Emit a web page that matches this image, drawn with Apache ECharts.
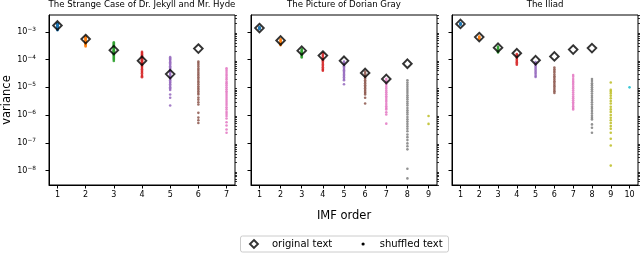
<!DOCTYPE html>
<html><head><meta charset="utf-8">
<script src="https://cdn.jsdelivr.net/npm/echarts@6/dist/echarts.min.js"></script>
<style>html,body{margin:0;padding:0;background:#fff}#c{width:640px;height:253px}</style>
</head><body><div id="c"></div>
<script>
// ---------- data ----------
const panelTitles = ['The Strange Case of Dr. Jekyll and Mr. Hyde', 'The Picture of Dorian Gray', 'The Iliad'];
const imfTicks1 = [1, 2, 3, 4, 5, 6, 7];
const imfTicks2 = [1, 2, 3, 4, 5, 6, 7, 8, 9];
const imfTicks3 = [1, 2, 3, 4, 5, 6, 7, 8, 9, 10];
const yTickValues = [1e-8, 1e-7, 1e-6, 1e-5, 1e-4, 1e-3];

const jekyllOriginal = [1.7e-3, 5.5e-4, 2.2e-4, 9.1e-5, 3.0e-5, 2.5e-4];
const dorianOriginal = [1.38e-3, 4.9e-4, 2.1e-4, 1.4e-4, 9.1e-5, 3.3e-5, 2.0e-5, 7.1e-5];
const iliadOriginal = [1.94e-3, 6.5e-4, 2.7e-4, 1.7e-4, 9.5e-5, 1.3e-4, 2.3e-4, 2.6e-4];

const jekyllShuffled = [
  [2.0e-3, 1.9e-3, 1.85e-3, 1.8e-3, 1.75e-3, 1.7e-3, 1.68e-3, 1.65e-3, 1.6e-3, 1.55e-3, 1.5e-3, 1.45e-3, 1.4e-3, 1.3e-3, 1.2e-3, 1.15e-3],
  [6.8e-4, 6.4e-4, 6.0e-4, 5.8e-4, 5.5e-4, 5.2e-4, 5.0e-4, 4.8e-4, 4.6e-4, 4.4e-4, 4.2e-4, 4.0e-4, 3.8e-4, 3.6e-4, 3.4e-4, 3.2e-4, 3.0e-4],
  [4.2e-4, 3.9e-4, 3.6e-4, 3.3e-4, 3.1e-4, 2.9e-4, 2.7e-4, 2.5e-4, 2.3e-4, 2.2e-4, 2.1e-4, 2.0e-4, 1.9e-4, 1.8e-4, 1.7e-4, 1.6e-4, 1.5e-4, 1.4e-4, 1.3e-4, 1.2e-4, 1.1e-4, 1.0e-4, 9.0e-5],
  [1.9e-4, 1.75e-4, 1.6e-4, 1.5e-4, 1.4e-4, 1.3e-4, 1.2e-4, 1.1e-4, 1.0e-4, 9.5e-5, 9.0e-5, 8.5e-5, 8.0e-5, 7.5e-5, 7.0e-5, 6.5e-5, 6.0e-5, 5.5e-5, 5.0e-5, 4.5e-5, 4.0e-5, 3.6e-5, 3.2e-5, 2.8e-5, 2.5e-5, 2.3e-5],
  [1.23e-4, 1.1e-4, 1.0e-4, 9.0e-5, 8.0e-5, 7.2e-5, 6.5e-5, 5.8e-5, 5.2e-5, 4.7e-5, 4.2e-5, 3.8e-5, 3.4e-5, 3.0e-5, 2.7e-5, 2.4e-5, 2.2e-5, 2.0e-5, 1.8e-5, 1.6e-5, 1.45e-5, 1.3e-5, 1.15e-5, 1.0e-5, 9.0e-6, 8.1e-6, 5.5e-6, 4.2e-6, 2.2e-6],
  [8.5e-5, 7.5e-5, 6.5e-5, 5.6e-5, 4.8e-5, 4.2e-5, 3.6e-5, 3.1e-5, 2.7e-5, 2.3e-5, 2.0e-5, 1.7e-5, 1.5e-5, 1.3e-5, 1.1e-5, 9.5e-6, 8.3e-6, 7.2e-6, 6.2e-6, 5.5e-6, 4.3e-6, 3.6e-6, 2.9e-6, 2.4e-6, 1.2e-6, 8.1e-7, 6.5e-7, 5.2e-7],
  [4.9e-5, 4.2e-5, 3.6e-5, 3.0e-5, 2.6e-5, 2.2e-5, 1.9e-5, 1.6e-5, 1.4e-5, 1.2e-5, 1.0e-5, 8.5e-6, 7.2e-6, 6.2e-6, 5.3e-6, 4.5e-6, 3.8e-6, 3.2e-6, 2.7e-6, 2.3e-6, 1.9e-6, 1.6e-6, 1.3e-6, 1.1e-6, 9.2e-7, 7.5e-7, 5.5e-7, 4.2e-7, 3.0e-7, 2.3e-7]
];
const dorianShuffled = [
  [1.5e-3, 1.45e-3, 1.4e-3, 1.35e-3, 1.3e-3, 1.25e-3],
  [5.5e-4, 5.1e-4, 4.8e-4, 4.5e-4, 4.2e-4, 3.9e-4, 3.6e-4, 3.3e-4],
  [2.4e-4, 2.2e-4, 2.0e-4, 1.85e-4, 1.7e-4, 1.55e-4, 1.4e-4, 1.3e-4, 1.2e-4],
  [1.7e-4, 1.5e-4, 1.35e-4, 1.2e-4, 1.05e-4, 9.5e-5, 8.5e-5, 7.5e-5, 6.7e-5, 6.0e-5, 5.3e-5, 4.7e-5, 4.3e-5, 4.0e-5],
  [8.5e-5, 7.5e-5, 6.5e-5, 5.8e-5, 5.2e-5, 4.6e-5, 4.1e-5, 3.7e-5, 3.3e-5, 2.9e-5, 2.6e-5, 2.3e-5, 2.0e-5, 1.8e-5, 1.3e-5],
  [3.7e-5, 3.2e-5, 2.8e-5, 2.4e-5, 2.1e-5, 1.8e-5, 1.6e-5, 1.4e-5, 1.2e-5, 1.05e-5, 9.2e-6, 8.0e-6, 7.0e-6, 6.2e-6, 5.5e-6, 4.2e-6, 2.6e-6],
  [2.0e-5, 1.7e-5, 1.45e-5, 1.25e-5, 1.05e-5, 9.0e-6, 7.7e-6, 6.6e-6, 5.6e-6, 4.8e-6, 4.1e-6, 3.5e-6, 3.0e-6, 2.5e-6, 2.1e-6, 1.8e-6, 1.6e-6, 1.26e-6, 1.05e-6, 4.9e-7],
  [1.8e-5, 1.5e-5, 1.25e-5, 1.05e-5, 8.8e-6, 7.4e-6, 6.2e-6, 5.2e-6, 4.4e-6, 3.7e-6, 3.1e-6, 2.6e-6, 2.2e-6, 1.8e-6, 1.5e-6, 1.25e-6, 1.05e-6, 8.5e-7, 7.0e-7, 5.8e-7, 4.8e-7, 3.9e-7, 3.2e-7, 2.6e-7, 2.0e-7, 1.6e-7, 1.25e-7, 9.5e-8, 7.5e-8, 5.8e-8, 1.15e-8, 5.2e-9],
  [9.3e-7, 4.8e-7]
];
const iliadShuffled = [
  [2.1e-3, 2.0e-3, 1.95e-3, 1.9e-3, 1.85e-3, 1.8e-3],
  [6.8e-4, 6.5e-4, 6.2e-4, 5.9e-4, 5.6e-4],
  [2.95e-4, 2.7e-4, 2.5e-4, 2.3e-4, 2.1e-4, 1.95e-4, 1.8e-4],
  [1.6e-4, 1.45e-4, 1.3e-4, 1.15e-4, 1.0e-4, 9.0e-5, 8.0e-5, 7.2e-5, 6.5e-5],
  [8.1e-5, 7.2e-5, 6.4e-5, 5.6e-5, 5.0e-5, 4.4e-5, 3.9e-5, 3.4e-5, 3.0e-5, 2.6e-5, 2.35e-5],
  [5.2e-5, 4.5e-5, 3.9e-5, 3.4e-5, 2.9e-5, 2.5e-5, 2.2e-5, 1.9e-5, 1.65e-5, 1.45e-5, 1.25e-5, 1.1e-5, 9.5e-6, 8.2e-6, 7.2e-6, 6.3e-6],
  [2.8e-5, 2.4e-5, 2.0e-5, 1.7e-5, 1.45e-5, 1.25e-5, 1.05e-5, 9.0e-6, 7.7e-6, 6.5e-6, 5.5e-6, 4.7e-6, 4.0e-6, 3.4e-6, 2.9e-6, 2.5e-6, 2.1e-6, 1.8e-6, 1.6e-6],
  [2.0e-5, 1.7e-5, 1.4e-5, 1.2e-5, 1.0e-5, 8.5e-6, 7.2e-6, 6.0e-6, 5.0e-6, 4.2e-6, 3.5e-6, 2.9e-6, 2.4e-6, 2.0e-6, 1.7e-6, 1.4e-6, 1.15e-6, 9.5e-7, 8.0e-7, 6.9e-7, 4.6e-7, 3.5e-7, 2.3e-7],
  [1.5e-5, 8.1e-6, 7.0e-6, 6.0e-6, 5.0e-6, 4.0e-6, 3.2e-6, 2.6e-6, 2.0e-6, 1.6e-6, 1.3e-6, 1.0e-6, 8.0e-7, 6.5e-7, 5.2e-7, 4.0e-7, 3.2e-7, 2.3e-7, 1.4e-7, 8.0e-8, 1.5e-8],
  [1.0e-5]
];

// ---------- styling / layout ----------
const tab10 = ['#1f77b4', '#ff7f0e', '#2ca02c', '#d62728', '#9467bd', '#8c564b', '#e377c2', '#7f7f7f', '#bcbd22', '#17becf'];
const FONT = 'DejaVu Sans';
const yMin = 3.0e-9, yMax = 4.07e-3;
const gridLefts = [49, 251, 452];
const gridW = 186, gridTop = 15, gridH = 170;
const xTickSets = [imfTicks1, imfTicks2, imfTicks3];
const xExtents = [[0.7, 7.3], [0.6, 9.4], [0.55, 10.45]];
const originals = [jekyllOriginal, dorianOriginal, iliadOriginal];
const shuffled = [jekyllShuffled, dorianShuffled, iliadShuffled];

const minorTickValues = [];
for (let k = -9; k <= -3; k++) {
  for (let m = 2; m <= 9; m++) {
    const v = m * Math.pow(10, k);
    if (v > yMin && v < yMax) minorTickValues.push(v);
  }
}

const grids = [], xAxes = [], yAxes = [], series = [], titles = [];
for (let p = 0; p < 3; p++) {
  grids.push({left: gridLefts[p], top: gridTop, width: gridW, height: gridH,
    show: true, borderColor: '#000', borderWidth: 1, backgroundColor: 'transparent'});
  titles.push({text: panelTitles[p], left: gridLefts[p] + gridW / 2, top: 0.5, textAlign: 'center', padding: 0,
    textStyle: {fontFamily: FONT, fontSize: 8.6, fontWeight: 'normal', color: '#000'}});
  const xa = {type: 'value', gridIndex: p, min: xExtents[p][0], max: xExtents[p][1],
    axisLine: {show: true, lineStyle: {color: '#000', width: 1}},
    axisTick: {show: true, length: 3.5, lineStyle: {color: '#000', width: 1}, customValues: xTickSets[p]},
    axisLabel: {show: true, customValues: xTickSets[p], fontFamily: FONT, fontSize: 8, color: '#000', margin: 6,
      formatter: v => String(v)},
    splitLine: {show: false}};
  if (p === 1) {
    xa.name = 'IMF order'; xa.nameLocation = 'middle'; xa.nameGap = 25;
    xa.nameTextStyle = {fontFamily: FONT, fontSize: 11.5, color: '#000'};
  }
  xAxes.push(xa);
  const ya = {type: 'log', gridIndex: p, min: yMin, max: yMax, logBase: 10,
    axisLine: {show: true, lineStyle: {color: '#000', width: 1}},
    axisTick: {show: true, length: 3.5, lineStyle: {color: '#000', width: 1}, customValues: yTickValues},
    axisLabel: {show: p === 0, customValues: yTickValues, margin: 13, color: '#000',
      formatter: v => '{b|10}{s|\u2212' + Math.round(-Math.log10(v)) + '}',
      rich: {b: {fontFamily: FONT, fontSize: 8, color: '#000'}, s: {fontFamily: FONT, fontSize: 5.8, color: '#000', verticalAlign: 'top', padding: [0, 0, 5, 0]}}},
    splitLine: {show: false}};
  if (p === 0) {
    ya.name = 'variance'; ya.nameLocation = 'middle'; ya.nameRotate = 90; ya.nameGap = 35;
    ya.nameTextStyle = {fontFamily: FONT, fontSize: 11.5, color: '#000'};
  }
  yAxes.push(ya);
  yAxes.push({type: 'log', gridIndex: p, min: yMin, max: yMax, logBase: 10,
    axisLine: {show: false},
    axisTick: {show: true, length: 2, lineStyle: {color: '#000', width: 0.8}, customValues: minorTickValues},
    axisLabel: {show: false}, splitLine: {show: false}});

  const pts = [];
  shuffled[p].forEach((strip, i) => {
    strip.forEach(v => pts.push({value: [i + 1, v], itemStyle: {color: tab10[i % 10]}}));
  });
  series.push({name: 'shuffled text', type: 'scatter', xAxisIndex: p, yAxisIndex: 2 * p,
    symbol: 'circle', symbolSize: 2.6, itemStyle: {opacity: 0.85}, data: pts, z: 2});
  series.push({name: 'original text', type: 'scatter', xAxisIndex: p, yAxisIndex: 2 * p,
    symbol: 'diamond', symbolSize: 8.6,
    itemStyle: {color: 'rgba(0,0,0,0)', borderColor: '#000', borderWidth: 1.9},
    data: originals[p].map((v, i) => [i + 1, v]), z: 3});
}

const chart = echarts.init(document.getElementById('c'), null, {renderer: 'canvas'});
chart.setOption({
  animation: false,
  backgroundColor: '#fff',
  title: titles,
  grid: grids,
  xAxis: xAxes,
  yAxis: yAxes,
  legend: [
    {data: [{name: 'original text', icon: 'diamond', itemStyle: {color: '#fff', borderColor: '#000', borderWidth: 1.9}}],
      left: 249, top: 239, itemWidth: 8, itemHeight: 8, padding: 0, selectedMode: false,
      textStyle: {fontFamily: FONT, fontSize: 10, color: '#000', padding: [0, 0, 0, 9]}},
    {data: [{name: 'shuffled text', icon: 'circle', itemStyle: {color: '#000', opacity: 1}}],
      left: 361.5, top: 239, itemWidth: 3.2, itemHeight: 3.2, padding: 0, selectedMode: false,
      textStyle: {fontFamily: FONT, fontSize: 10, color: '#000', padding: [0, 0, 0, 10]}}
  ],
  graphic: [{type: 'rect', left: 240, top: 235.5, shape: {width: 208, height: 16, r: 2},
    style: {fill: 'rgba(255,255,255,0.8)', stroke: '#cccccc', lineWidth: 1}, z: -1}],
  series: series
});
</script></body></html>
